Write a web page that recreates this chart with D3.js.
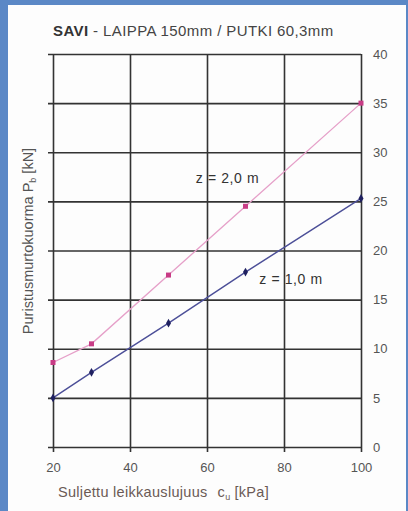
<!DOCTYPE html>
<html>
<head>
<meta charset="utf-8">
<script src="https://cdn.jsdelivr.net/npm/d3@7"></script>
<style>
  html, body { margin: 0; padding: 0; width: 408px; height: 511px; background: #5b88c6; overflow: hidden; }
  svg { display: block; font-family: "Liberation Sans", Arial, sans-serif; }
</style>
</head>
<body>
<div id="chart"></div>
<script>
// Daten
const cuValues = [20, 30, 50, 70, 100];
const z2Values = [8.6, 10.5, 17.5, 24.5, 35];
const z1Values = [5, 7.6, 12.6, 17.8, 25.3];
const xTicks = [20, 40, 60, 80, 100];
const yTicks = [0, 5, 10, 15, 20, 25, 30, 35, 40];

const width = 408;
const height = 511;
const margin = {top: 54, right: 47, bottom: 64, left: 53};
const innerWidth = width - margin.left - margin.right;
const innerHeight = height - margin.top - margin.bottom;

const svg = d3.select("#chart")
  .append("svg")
  .attr("width", width)
  .attr("height", height)
  .attr("viewBox", `0 0 ${width} ${height}`);

// Rahmen: blauer Hintergrund, weisses Feld
svg.append("rect").attr("width", width).attr("height", height).attr("fill", "#5b88c6");
svg.append("rect").attr("x", 8).attr("y", 5).attr("width", 398).attr("height", 506).attr("fill", "#fdfdfd");

const inner = svg.append("g")
  .attr("transform", `translate(${margin.left}, ${margin.top})`);

const xScale = d3.scaleLinear().domain([20, 100]).range([0, innerWidth]);
const yScale = d3.scaleLinear().domain([0, 40]).range([innerHeight, 0]);

// Gitter (vertikal) mit kleinen Ticks nach unten
inner.append("g")
  .attr("class", "grid-x")
  .attr("transform", `translate(0, ${innerHeight})`)
  .call(d3.axisBottom(xScale).tickValues(xTicks).tickSize(-innerHeight).tickFormat(""))
  .call(g => g.select(".domain").remove())
  .call(g => g.selectAll("text").remove())
  .call(g => g.selectAll("line").attr("stroke", "#333").attr("stroke-width", 1.6).attr("y1", 5));

// Gitter (horizontal) mit Ticks nach links
inner.append("g")
  .attr("class", "grid-y")
  .call(d3.axisLeft(yScale).tickValues(yTicks).tickSize(-innerWidth).tickFormat(""))
  .call(g => g.select(".domain").remove())
  .call(g => g.selectAll("text").remove())
  .call(g => g.selectAll("line").attr("stroke", "#333").attr("stroke-width", 1.6).attr("x1", -5));

// X-Achse Beschriftung
inner.append("g")
  .attr("transform", `translate(0, ${innerHeight})`)
  .call(d3.axisBottom(xScale).tickValues(xTicks).tickSize(0).tickPadding(16))
  .call(g => g.select(".domain").remove())
  .call(g => g.selectAll("text")
    .attr("font-size", 13).attr("fill", "#555").attr("font-family", "Liberation Sans, Arial, sans-serif"));

// Y-Achse rechts
inner.append("g")
  .attr("transform", `translate(${innerWidth}, 0)`)
  .call(d3.axisRight(yScale).tickValues(yTicks).tickSize(0).tickPadding(12))
  .call(g => g.select(".domain").remove())
  .call(g => g.selectAll("text")
    .attr("font-size", 13).attr("fill", "#555").attr("font-family", "Liberation Sans, Arial, sans-serif"));

const z2 = cuValues.map((c, i) => ({x: c, y: z2Values[i]}));
const z1 = cuValues.map((c, i) => ({x: c, y: z1Values[i]}));

const line = d3.line()
  .x(d => xScale(d.x))
  .y(d => yScale(d.y));

inner.append("path")
  .attr("d", line(z2))
  .attr("fill", "none")
  .attr("stroke", "#e6a0c9")
  .attr("stroke-width", 1.3);

inner.append("path")
  .attr("d", line(z1))
  .attr("fill", "none")
  .attr("stroke", "#4c4f98")
  .attr("stroke-width", 1.4);

inner.selectAll("rect.m2")
  .data(z2)
  .join("rect")
  .attr("class", "m2")
  .attr("x", d => xScale(d.x) - 2.5)
  .attr("y", d => yScale(d.y) - 2.5)
  .attr("width", 5)
  .attr("height", 5)
  .attr("fill", "#c83c86");

inner.selectAll("path.m1")
  .data(z1)
  .join("path")
  .attr("class", "m1")
  .attr("d", d3.symbol(d3.symbolDiamond, 22))
  .attr("transform", d => `translate(${xScale(d.x)}, ${yScale(d.y)})`)
  .attr("fill", "#1f2060");

// Kurvenbeschriftungen
inner.append("text")
  .attr("x", xScale(57.1))
  .attr("y", yScale(26.9))
  .attr("font-size", 14)
  .attr("letter-spacing", 0.6)
  .attr("fill", "#333")
  .text("z = 2,0 m");

inner.append("text")
  .attr("x", xScale(73.6))
  .attr("y", yScale(16.6))
  .attr("font-size", 14)
  .attr("letter-spacing", 0.6)
  .attr("fill", "#333")
  .text("z = 1,0 m");

// Titel
const title = svg.append("text")
  .attr("x", 53)
  .attr("y", 36)
  .attr("font-size", 15)
  .attr("letter-spacing", 0.4)
  .attr("fill", "#444");
title.append("tspan").attr("font-weight", "bold").attr("fill", "#333").text("SAVI");
title.append("tspan").text(" - LAIPPA 150mm / PUTKI 60,3mm");

// X-Achsentitel
const xt = svg.append("text")
  .attr("x", 58)
  .attr("y", 497)
  .attr("font-size", 14.5)
  .attr("letter-spacing", 0.3)
  .attr("fill", "#6b5a55");
xt.append("tspan").text("Suljettu leikkauslujuus");
xt.append("tspan").attr("dx", 10).text("c");
xt.append("tspan").attr("font-size", 9).attr("dy", 3).text("u");
xt.append("tspan").attr("dy", -3).attr("dx", 4).text("[kPa]");

// Y-Achsentitel
const yt = svg.append("text")
  .attr("transform", "translate(33, 241) rotate(-90)")
  .attr("text-anchor", "middle")
  .attr("font-size", 14.5)
  .attr("fill", "#555");
yt.append("tspan").text("Puristusmurtokuorma P");
yt.append("tspan").attr("font-size", 9).attr("dy", 3).text("b");
yt.append("tspan").attr("dy", -3).text(" [kN]");
</script>
</body>
</html>
